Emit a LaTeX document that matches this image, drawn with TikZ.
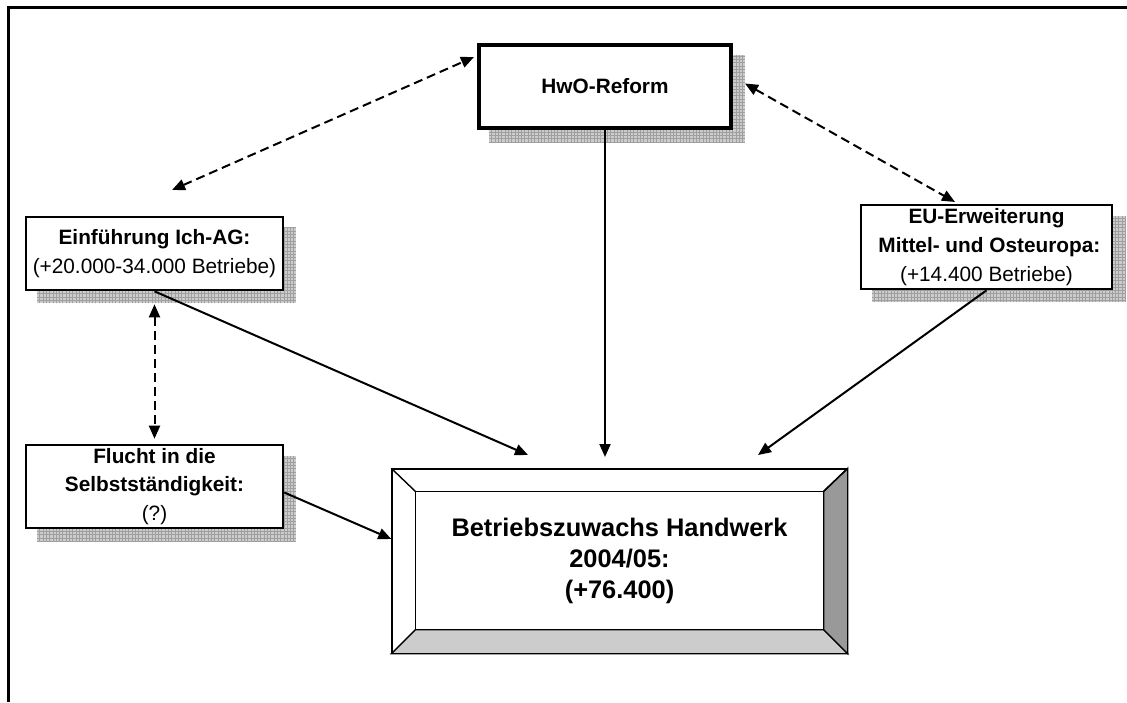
\documentclass[tikz,border=0pt]{standalone}
\usepackage{fontspec}
\setmainfont{Liberation Sans}
\usetikzlibrary{arrows.meta,backgrounds}

\tikzset{
  box/.style={draw, line width=1.3pt, fill=white, align=center, inner sep=0pt,
    font=\fontsize{10.4}{14.4}\selectfont},
  mainbox/.style={draw, line width=0.7pt, fill=white, align=center, inner sep=0pt,
    minimum width=227.5pt, minimum height=92pt,
    font=\bfseries\fontsize{12.7}{15.5}\selectfont},
  dasharrow/.style={dash pattern=on 4.5pt off 2.5pt, line width=1pt,
    {Triangle[length=6.5pt,width=5.5pt]}-{Triangle[length=6.5pt,width=5.5pt]}},
  solidarrow/.style={line width=1pt, -{Triangle[length=6.5pt,width=5.5pt]}},
}

\begin{document}
\begin{tikzpicture}[x=0.5pt,y=-0.5pt]
  \useasboundingbox (0,0) rectangle (1127,702);
  % frame
  \draw[line width=1.5pt] (8.5,702) -- (8.5,7) -- (1127,7);

  % boxes
  \node[box, line width=2pt, minimum width=126pt, minimum height=41.5pt] (hwo) at (605,86.5)
    {\bfseries HwO-Reform};
  \node[box, minimum width=128.5pt, minimum height=36.5pt] (ein) at (154.5,253.5)
    {\textbf{Einführung Ich-AG:}\\(+20.000-34.000 Betriebe)};
  \node[box, minimum width=125.5pt, minimum height=42pt] (eu) at (986.5,247)
    {\textbf{EU-Erweiterung}\\\textbf{ Mittel- und Osteuropa:}\\(+14.400 Betriebe)};
  \node[box, minimum width=128.5pt, minimum height=41.5pt] (flucht) at (154.5,486.5)
    {\textbf{Flucht in die}\\\textbf{Selbstständigkeit:}\\(?)};

  % shadows
  \begin{scope}[on background layer]
    \foreach \b in {hwo,ein,eu,flucht}{
      \fill[gray!40] ([shift={(6pt,-6pt)}]\b.south west) rectangle ([shift={(6pt,-6pt)}]\b.north east);
      \draw[gray!75, line width=0.25pt, step=1.65pt]
        ([shift={(6pt,-6pt)}]\b.south west) grid ([shift={(6pt,-6pt)}]\b.north east);
    }
  \end{scope}

  % bevelled result box
  \node[mainbox] (main) at (619.5,561) {Betriebszuwachs Handwerk\\2004/05:\\(+76.400)};
  \coordinate (mnw) at ([shift={(12pt,-11.5pt)}]main.north west);
  \coordinate (mne) at ([shift={(-12pt,-11.5pt)}]main.north east);
  \coordinate (mse) at ([shift={(-12pt,12pt)}]main.south east);
  \coordinate (msw) at ([shift={(12pt,12pt)}]main.south west);
  \filldraw[fill=gray!40, line width=0.7pt] (main.south west) -- (main.south east) -- (mse) -- (msw) -- cycle;
  \filldraw[fill=gray!80, line width=0.7pt] (main.south east) -- (main.north east) -- (mne) -- (mse) -- cycle;
  \draw[line width=0.7pt] (mnw) rectangle (mse);
  \draw[line width=0.7pt] (main.north west) -- (mnw) (main.north east) -- (mne);
  \draw[line width=0.7pt] (main.north west) rectangle (main.south east);

  % arrow ends
  \coordinate (einTip) at (172,190);
  \coordinate (hwoTipL) at (474,57);
  \coordinate (euTip) at (955,202);
  \coordinate (tipL) at (528,455);
  \coordinate (tipM) at (605,457);
  \coordinate (tipR) at (758,455);

  % dashed links
  \draw[dasharrow] (einTip) -- (hwoTipL);
  \draw[dasharrow] ([xshift=6pt,yshift=1.5pt]hwo.east) -- (euTip);
  \draw[dasharrow, shorten <=6.5pt, shorten >=2.5pt] (ein.south) -- (flucht.north);

  % effects
  \draw[solidarrow] (ein.south) -- (tipL);
  \draw[solidarrow] (hwo.south) -- (tipM);
  \draw[solidarrow] (eu.south) -- (tipR);
  \draw[solidarrow] ([yshift=-3pt]flucht.east) -- ([yshift=11pt]main.west);
\end{tikzpicture}
\end{document}
